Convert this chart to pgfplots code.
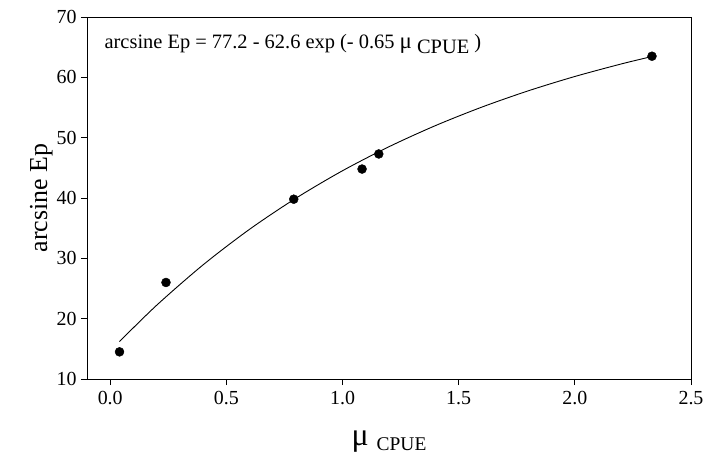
\documentclass[border=0pt]{standalone}
\usepackage{fontspec}
\setmainfont{Liberation Serif}
\usepackage{pgfplots}
\pgfplotsset{compat=1.18}
\begin{document}
\begin{tikzpicture}
\useasboundingbox (-87bp,-83bp) rectangle (617bp,379bp);
\begin{axis}[
  at={(0,0)}, anchor=south west,
  scale only axis, width=604bp, height=362bp,
  xmin=-0.1, xmax=2.5, ymin=10, ymax=70,
  xtick={0,0.5,1,1.5,2,2.5},
  ytick={10,20,30,40,50,60,70},
  xticklabel style={/pgf/number format/fixed, /pgf/number format/fixed zerofill, /pgf/number format/precision=1, yshift=-3bp},
  /pgf/number format/assume math mode=true,
  tick align=outside, major tick length=6bp,
  xtick pos=bottom, ytick pos=left,
  axis line style={line width=0.8pt},
  tick style={black, line width=0.8pt},
  ticklabel style={font=\fontsize{20}{22}\selectfont},
  yticklabel style={xshift=-1bp},
  ylabel={\fontsize{26}{28}\selectfont arcsine Ep},
  ylabel style={yshift=-3bp},
  xlabel={{\fontsize{32}{32}\selectfont μ}\hspace{8bp}{\fontsize{19.5}{21}\selectfont\raisebox{-5bp}{CPUE}}},
  xlabel style={yshift=-19bp},
  clip=false,
]
\addplot[black, line width=0.9pt, smooth] coordinates {
(0.04,16.21) (0.2,22.23) (0.4,28.93) (0.6,34.82) (0.8,39.98) (1.0,44.52)
(1.2,48.50) (1.4,52.00) (1.6,55.07) (1.8,57.77) (2.0,60.14) (2.2,62.22) (2.33,63.43)
};
\addplot[only marks, mark=*, mark size=4.5bp, black] coordinates {
(0.04,14.5) (0.24,26.0) (0.79,39.8) (1.084,44.8) (1.156,47.3) (2.332,63.5)
};
\node[anchor=west, inner sep=0pt, font=\fontsize{20.5}{22}\selectfont] at (axis cs:-0.025,65.5)
  {arcsine Ep = 77.2 - 62.6 exp (- 0.65 {\fontsize{23}{24}\selectfont μ} \raisebox{-5bp}{CPUE} )};
\end{axis}
\end{tikzpicture}
\end{document}
